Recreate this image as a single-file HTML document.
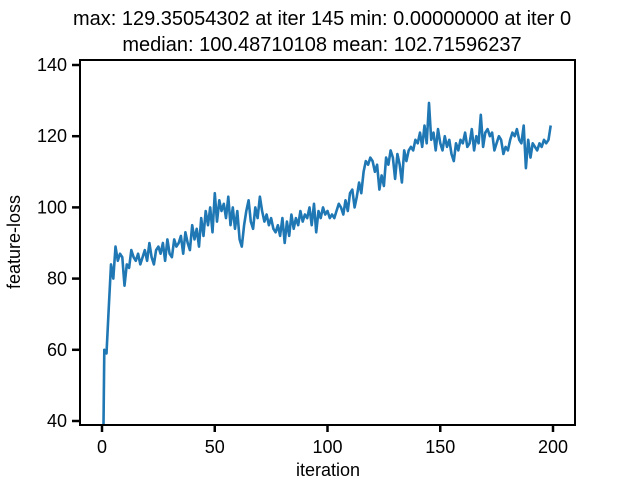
<!DOCTYPE html>
<html><head><meta charset="utf-8"><style>
html,body{margin:0;background:#fff;width:640px;height:480px;overflow:hidden;}
svg{display:block;font-family:"Liberation Sans","DejaVu Sans",sans-serif;}
</style></head><body>
<svg width="640" height="480" viewBox="0 0 640 480" overflow="hidden">
<text x="322" y="25" font-size="20" text-anchor="middle">max: 129.35054302 at iter 145 min: 0.00000000 at iter 0</text>
<text x="322" y="51" font-size="20" text-anchor="middle">median: 100.48710108 mean: 102.71596237</text>
<defs><clipPath id="c"><rect x="80" y="60" width="495" height="365"/></clipPath></defs>
<g id="axes"></g>
<path id="line" fill="none" stroke="#1f77b4" stroke-width="2.6" stroke-linejoin="round" clip-path="url(#c)"/>
<rect x="80" y="60" width="495" height="365" fill="none" stroke="#000" stroke-width="2"/>
<text x="20" y="242" font-size="18" text-anchor="middle" transform="rotate(-90 20 242)">feature-loss</text>
<text x="328" y="476" font-size="18" text-anchor="middle">iteration</text>
</svg>
<script>
const xTicks=[0,50,100,150,200];
const yTicks=[40,60,80,100,120,140];
const values=[0,60,59,72,84,80,89,85,87,86,78,
84,83,88,86,85,87,84,86,88,85,90,86,84,88,89,87,90,85,91,87,
86,91,89,90,92,87,93,90,88,95,91,94,89,97,92,99,95,100,93,104,
96,102,99,101,97,103,95,100,94,99,91,89,95,99,102,96,94,100,97,103,
99,96,98,95,97,94,93,95,92,97,90,96,92,98,94,97,95,99,96,98,
97,100,95,101,93,99,97,100,98,99,97,98,97,99,101,100,98,102,99,104,
105,100,103,107,104,110,113,112,114,113,110,112,105,109,106,114,112,116,114,108,
115,112,107,116,113,116,117,116,119,118,121,117,123,118,129.35,119,121,116,122,118,
116,120,117,119,115,113,118,116,119,118,121,117,118,122,116,120,118,126,117,121,
122,120,121,116,118,120,119,115,117,116,119,121,120,122,119,118,123,111,119,114,118,117,116,118,117,119,118,119,123];
const yMin=38.9;
const xs=v=>102+v*2.255;
const ys=v=>421-(v-40)*3.56;
const ax=document.getElementById('axes');
const ns='http://www.w3.org/2000/svg';
xTicks.forEach(t=>{
 const l=document.createElementNS(ns,'line');
 
 
 l.setAttribute('x1',xs(t));l.setAttribute('x2',xs(t));l.setAttribute('y1',425);l.setAttribute('y2',432);
 l.setAttribute('stroke','#000');l.setAttribute('stroke-width','2.5');ax.appendChild(l);
 const tx=document.createElementNS(ns,'text');
 
 
 tx.setAttribute('x',xs(t));tx.setAttribute('y',453);tx.setAttribute('font-size','18');tx.setAttribute('text-anchor','middle');
 tx.textContent=t;ax.appendChild(tx);
});
yTicks.forEach(t=>{
 const l=document.createElementNS(ns,'line');
 
 
 l.setAttribute('x1',72);l.setAttribute('x2',80);l.setAttribute('y1',ys(t));l.setAttribute('y2',ys(t));
 l.setAttribute('stroke','#000');l.setAttribute('stroke-width','2.5');ax.appendChild(l);
 const tx=document.createElementNS(ns,'text');
 
 
 tx.setAttribute('x',67);tx.setAttribute('y',ys(t)+6);tx.setAttribute('font-size','18');tx.setAttribute('text-anchor','end');
 tx.textContent=t;ax.appendChild(tx);
});
// build path, clipping segments below yMin at the axis boundary
let d='';let started=false;
for(let i=0;i<values.length;i++){
 const v=values[i];
 if(v>=yMin){
  if(!started){
   if(i>0){const p=values[i-1];const f=(yMin-p)/(v-p);d+='M'+xs(i-1+f).toFixed(1)+','+ys(yMin).toFixed(1);d+='L';}
   else d+='M';
   started=true;
  } else d+='L';
  d+=xs(i).toFixed(1)+','+ys(v).toFixed(1);
 } else started=false;
}
document.getElementById('line').setAttribute('d',d);
</script>
</body></html>
